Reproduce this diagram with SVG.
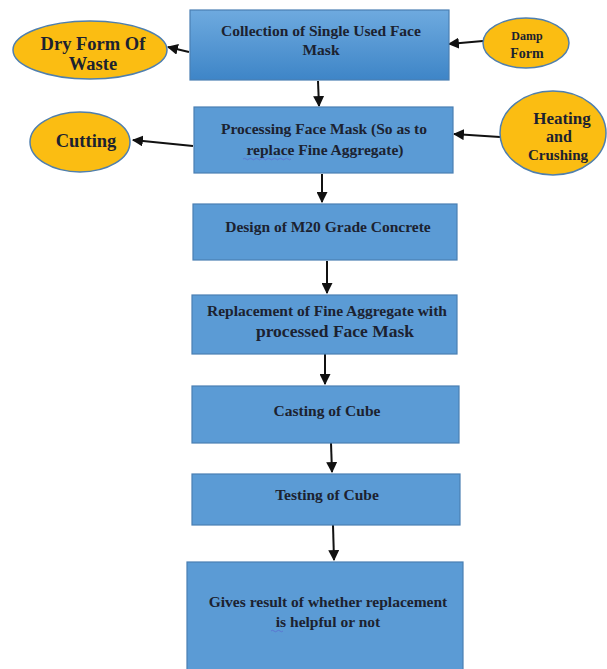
<svg xmlns="http://www.w3.org/2000/svg" width="607" height="669" viewBox="0 0 607 669">
  <defs>
    <linearGradient id="topGrad" x1="0" y1="0" x2="0" y2="1">
      <stop offset="0" stop-color="#6eaadf"/>
      <stop offset="1" stop-color="#3e85c7"/>
    </linearGradient>
    <marker id="arrow" viewBox="0 0 10 10" refX="9" refY="5" markerWidth="5.5" markerHeight="5.5" orient="auto-start-reverse">
      <path d="M0,0 L10,5 L0,10 z" fill="#111"/>
    </marker>
    <style>
      .box { fill: #5b9bd5; stroke: #4a7fb3; stroke-width: 1.2; }
      .oval { fill: #fbbd12; stroke: #4f7fae; stroke-width: 1.5; }
      .t { font-family: "Liberation Serif", "Times New Roman", serif; font-weight: bold; fill: #1c2230; text-anchor: middle; }
      .conn line { stroke: #111; stroke-width: 2; marker-end: url(#arrow); }
      .squiggle { fill: none; stroke: #5a6fd0; stroke-width: 0.8; }
    </style>
  </defs>
  <rect width="607" height="669" fill="#ffffff"/>

  <g id="connectors" class="conn">
    <line x1="318" y1="81" x2="319" y2="106"/>
    <line x1="322" y1="174" x2="322" y2="202"/>
    <line x1="327" y1="261" x2="327" y2="293"/>
    <line x1="325" y1="354" x2="325" y2="384"/>
    <line x1="331" y1="443" x2="332" y2="472"/>
    <line x1="333" y1="525" x2="334" y2="560"/>
    <line x1="189" y1="52" x2="168" y2="47"/>
    <line x1="483" y1="41" x2="449" y2="44"/>
    <line x1="193" y1="146" x2="133" y2="140"/>
    <line x1="500" y1="137" x2="454" y2="134"/>
  </g>

  <g id="collection">
    <rect x="190" y="10" width="259" height="70" fill="url(#topGrad)" stroke="#4a7fb3" stroke-width="1.2"/>
    <text class="t" x="321" y="36" font-size="15.5">Collection of Single Used Face</text>
    <text class="t" x="321" y="55" font-size="15.5">Mask</text>
  </g>

  <g id="dry-form">
    <ellipse class="oval" cx="90" cy="50" rx="77" ry="29"/>
    <text class="t" x="93" y="50" font-size="18.5">Dry Form Of</text>
    <text class="t" x="93" y="70" font-size="18.5">Waste</text>
  </g>

  <g id="damp-form">
    <ellipse class="oval" cx="526" cy="43" rx="43" ry="25"/>
    <text class="t" x="527" y="40" font-size="12">Damp</text>
    <text class="t" x="527" y="58" font-size="14">Form</text>
  </g>

  <g id="processing">
    <rect class="box" x="194" y="107" width="259" height="66"/>
    <text class="t" x="324" y="134" font-size="15.5">Processing Face Mask (So as to</text>
    <text class="t" x="325" y="155" font-size="15.5">replace Fine Aggregate)</text>
    <path class="squiggle" d="M243,159 q1.5,-1.5 3,0 t3,0 t3,0 t3,0 t3,0 t3,0 t3,0 t3,0 t3,0 t3,0 t3,0 t3,0 t3,0 t3,0 t3,0 t3,0"/>
  </g>

  <g id="cutting">
    <ellipse class="oval" cx="80" cy="142" rx="50" ry="30"/>
    <text class="t" x="86" y="147" font-size="18.5">Cutting</text>
  </g>

  <g id="heating">
    <ellipse class="oval" cx="553" cy="133" rx="53" ry="42"/>
    <text class="t" x="562" y="124" font-size="17">Heating</text>
    <text class="t" x="559" y="142" font-size="16">and</text>
    <text class="t" x="558" y="160" font-size="15">Crushing</text>
  </g>

  <g id="design">
    <rect class="box" x="193" y="204" width="264" height="56"/>
    <text class="t" x="328" y="232" font-size="15.5">Design of M20 Grade Concrete</text>
  </g>

  <g id="replacement">
    <rect class="box" x="192" y="295" width="265" height="59"/>
    <text class="t" x="327" y="316" font-size="15.5">Replacement of Fine Aggregate with</text>
    <text class="t" x="335" y="337" font-size="17.5">processed Face Mask</text>
  </g>

  <g id="casting">
    <rect class="box" x="192" y="386" width="267" height="57"/>
    <text class="t" x="327" y="416" font-size="15.5">Casting of Cube</text>
  </g>

  <g id="testing">
    <rect class="box" x="192" y="474" width="268" height="51"/>
    <text class="t" x="327" y="500" font-size="15.5">Testing of Cube</text>
  </g>

  <g id="result">
    <rect class="box" x="187" y="562" width="276" height="112"/>
    <text class="t" x="328" y="607" font-size="15.5">Gives result of whether replacement</text>
    <text class="t" x="328" y="627" font-size="15.5">is helpful or not</text>
    <path class="squiggle" d="M271,631 q1.5,-1.5 3,0 t3,0 t3,0 t3,0"/>
  </g>
</svg>
